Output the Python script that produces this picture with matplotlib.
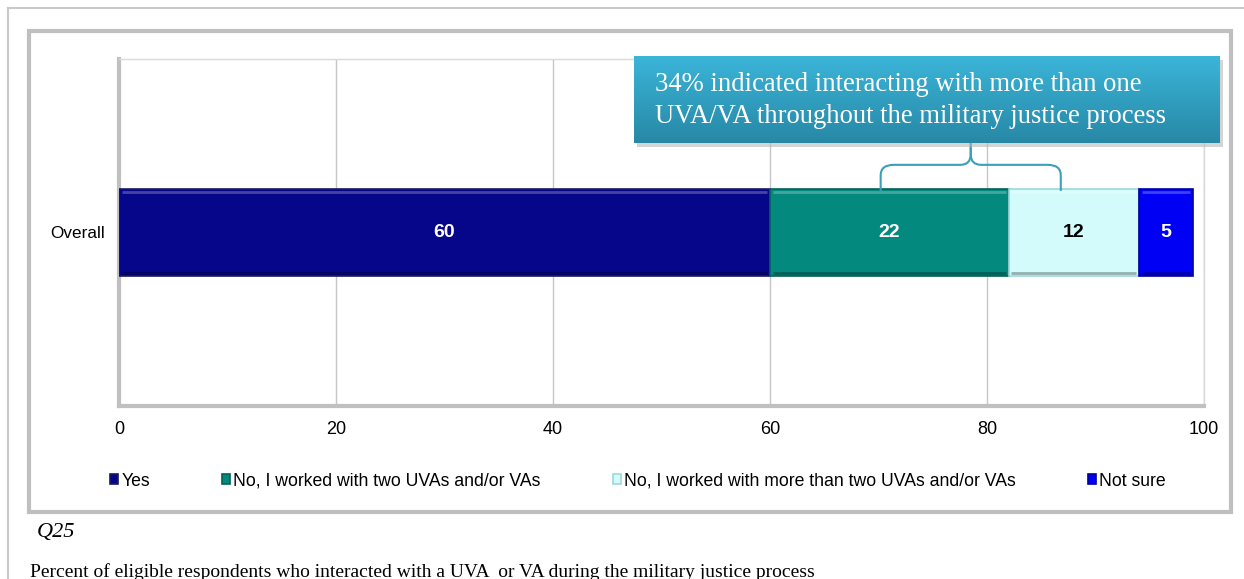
import matplotlib
matplotlib.use("Agg")
import matplotlib.pyplot as plt
import numpy as np
from matplotlib.patches import Rectangle, PathPatch
from matplotlib.path import Path
from matplotlib.lines import Line2D
import matplotlib.transforms as mtransforms
import matplotlib.colors as mcolors

# ---------------- data ----------------
categories = ["Overall"]
series_names = [
    "Yes",
    "No, I worked with two UVAs and/or VAs",
    "No, I worked with more than two UVAs and/or VAs",
    "Not sure",
]
values_yes = [60]
values_two = [22]
values_more = [12]
values_notsure = [5]
series_values = [values_yes, values_two, values_more, values_notsure]
series_colors = ["#06068A", "#04897F", "#D4FBFC", "#0000F5"]
edge_colors = ["#1a1a60", "#05605a", "#9fd8dc", "#0000a0"]
label_colors = ["white", "white", "black", "white"]
xticks = [0, 20, 40, 60, 80, 100]
callout_text = "34% indicated interacting with more than one\nUVA/VA throughout the military justice process"
brace_span = [70.2, 86.8]  # x positions (percent) of brace tips
question_label = "Q25"
caption = "Percent of eligible respondents who interacted with a UVA  or VA during the military justice process"

W, H = 1244, 579
fig = plt.figure(figsize=(W / 100, H / 100), dpi=100)
fig.patch.set_facecolor("white")

def fx(x):
    return x / W

def fy(y):
    return 1 - y / H

def shade(c, f):
    rgb = np.array(mcolors.to_rgb(c))
    if f >= 0:
        return tuple(rgb + (1 - rgb) * f)
    return tuple(rgb * (1 + f))

# outer thin border lines (top + left)
fig.add_artist(Line2D([fx(8), fx(8)], [fy(8), 0], transform=fig.transFigure,
                      color="#c8c8c8", lw=1.5))
fig.add_artist(Line2D([fx(8), 1], [fy(8), fy(8)], transform=fig.transFigure,
                      color="#c8c8c8", lw=1.5))
# inner chart frame
fig.add_artist(Rectangle((fx(29), fy(512)), fx(1231 - 29), (512 - 31) / H,
                         transform=fig.transFigure, fill=False,
                         edgecolor="#bfbfbf", lw=3.0))

# ---------------- main axes ----------------
L, R, T, B = 119, 1204, 59, 406
ax = fig.add_axes([fx(L), fy(B), fx(R - L), (B - T) / H])
ax.set_xlim(0, 100)
ax.set_ylim(-0.5, 0.5)

ypos = np.arange(len(categories))
left = np.zeros(len(categories))
bar_h = 0.248
for name, vals, col, ec, lc in zip(series_names, series_values, series_colors,
                                   edge_colors, label_colors):
    vals = np.array(vals, dtype=float)
    bars = ax.barh(ypos, vals, left=left, height=bar_h, color=col,
                   edgecolor=ec, linewidth=1.2, label=name, zorder=3)
    for b, v in zip(bars, vals):
        bx, by, bw, bh = b.get_x(), b.get_y(), b.get_width(), b.get_height()
        # bevel: light top band, dark bottom band
        ax.hlines(by + bh - 0.008, bx + 0.25, bx + bw - 0.25, colors=[shade(col, 0.25)],
                  lw=2.0, zorder=3.5)
        ax.hlines(by + 0.008, bx + 0.25, bx + bw - 0.25, colors=[shade(col, -0.3)],
                  lw=2.0, zorder=3.5)
        ax.text(bx + bw / 2, by + bh / 2,
                f"{v:g}", ha="center", va="center", color=lc,
                fontsize=14, fontweight="bold", family="Liberation Sans",
                zorder=5)
    left = left + vals

ax.set_xticks(xticks)
ax.set_xticklabels([str(t) for t in xticks], family="Liberation Sans", fontsize=13)
ax.set_yticks(ypos)
ax.set_yticklabels(categories, family="Liberation Sans", fontsize=12.3)
ax.tick_params(axis="x", length=0, pad=11)
ax.tick_params(axis="y", length=0, pad=10)
ax.grid(axis="x", color="#c6c6c6", lw=1.0, zorder=0)
ax.set_axisbelow(True)
for s in ["top", "right"]:
    ax.spines[s].set_color("#d9d9d9")
    ax.spines[s].set_linewidth(1.0)
for s in ["left", "bottom"]:
    ax.spines[s].set_color("#c0c0c0")
    ax.spines[s].set_linewidth(3.0)

# brace (x in data, y in axes fraction)
trans = mtransforms.blended_transform_factory(ax.transData, ax.transAxes)
x0, x1 = brace_span
xm = (x0 + x1) / 2
yb, yh, yp = 0.62, 0.695, 0.77
dx, dy = 1.2, 0.03
verts = [
    (x0, yb), (x0, yh - dy), (x0, yh), (x0 + dx, yh),
    (xm - dx * 0.8, yh), (xm, yh), (xm, yh + dy), (xm, yp),
]
codes = [Path.MOVETO, Path.LINETO, Path.CURVE3, Path.CURVE3,
         Path.LINETO, Path.CURVE3, Path.CURVE3, Path.LINETO]
ax.add_patch(PathPatch(Path(verts, codes), transform=trans, fill=False,
                       edgecolor="#3a9fba", lw=1.5, zorder=4, clip_on=False))
verts2 = [(2 * xm - vx, vy) for vx, vy in verts]
ax.add_patch(PathPatch(Path(verts2, codes), transform=trans, fill=False,
                       edgecolor="#3a9fba", lw=1.5, zorder=4, clip_on=False))

# ---------------- callout box ----------------
bx0, by0, bx1, by1 = 634, 56, 1220, 143
# shadow
fig.add_artist(Rectangle((fx(bx0 + 3), fy(by1 + 4)), fx(bx1 - bx0), (by1 - by0) / H,
                         transform=fig.transFigure, facecolor="#b8b8b8",
                         edgecolor="none", alpha=0.6, zorder=5))
cax = fig.add_axes([fx(bx0), fy(by1), fx(bx1 - bx0), (by1 - by0) / H], zorder=6)
top_c = np.array([0x3b, 0xb5, 0xd8]) / 255
bot_c = np.array([0x27, 0x88, 0xa6]) / 255
t = np.linspace(0, 1, 100)[:, None]
grad = top_c[None, None, :] * (1 - t[..., None]) + bot_c[None, None, :] * t[..., None]
grad = np.repeat(grad, 2, axis=1)
cax.imshow(grad, aspect="auto", extent=[0, 1, 0, 1], origin="upper")
cax.set_xlim(0, 1)
cax.set_ylim(0, 1)
cax.axis("off")
cax.text((655 - bx0) / (bx1 - bx0), 0.485, callout_text, ha="left", va="center",
         color="white", fontsize=19.2, family="Liberation Serif", linespacing=1.38)

# ---------------- legend ----------------
handles, labels = ax.get_legend_handles_labels()
leg = fig.legend(handles, labels, loc="center", ncol=4,
                 bbox_to_anchor=(fx(638), fy(481)), frameon=False,
                 prop={"family": "Liberation Sans", "size": 12.7},
                 handlelength=0.45, handleheight=0.45, handletextpad=0.2,
                 columnspacing=4.08, borderaxespad=0)

# ---------------- footer text ----------------
fig.text(fx(37), fy(533), question_label, ha="left", va="center",
         family="Liberation Serif", style="italic", fontsize=16)
fig.text(fx(30), fy(572), caption, ha="left", va="center",
         family="Liberation Serif", fontsize=14)

fig.savefig("out.png", dpi=100, facecolor="white")
